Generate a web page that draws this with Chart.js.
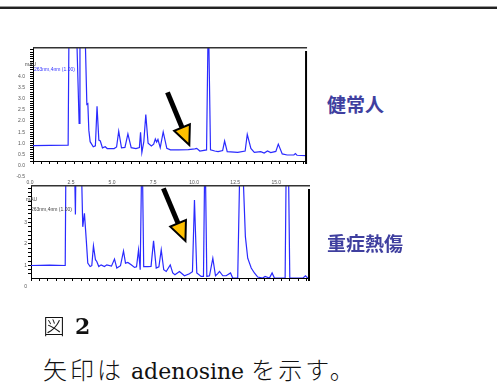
<!DOCTYPE html>
<html lang="ja">
<head>
<meta charset="UTF-8">
<title>図2 adenosine</title>
<script src="https://cdn.jsdelivr.net/npm/chart.js"></script>
<style>
  html, body { margin: 0; padding: 0; background: #fff; }
  body { width: 497px; height: 387px; position: relative; overflow: hidden; }
  .rule { position: absolute; left: 0; top: 6px; width: 497px; height: 0; border-top: 1px solid #9a9a9a; border-bottom: 2px solid #222; }
  canvas { position: absolute; left: 0; }
  #healthyChart { top: 40px; }
  #burnChart { top: 175px; }
  .small { position: absolute; font-family: 'Liberation Sans', Arial, sans-serif; font-size: 5px; line-height: 6px; white-space: nowrap; color: #444; }
  .blue { color: #3535ff; }
  .group { position: absolute; left: 327px; font-family: 'Noto Sans CJK JP', sans-serif; font-weight: 700; font-size: 19px; line-height: 20px; color: #3f3f9f; white-space: nowrap; }
  .caption { position: absolute; left: 43px; font-family: 'DejaVu Serif', 'Noto Sans CJK JP', serif; color: #111; white-space: nowrap; }
  .cjk { font-family: 'Noto Sans CJK JP', sans-serif; font-weight: 300; letter-spacing: 3px; }
</style>
</head>
<body>
  <div class="rule"></div>
  <canvas id="healthyChart" width="320" height="150"></canvas>
  <canvas id="burnChart" width="320" height="130"></canvas>

  <div class="small" style="left:25px; top:61px;">mAU</div>
  <div class="small blue" style="left:34px; top:66px;">263nm,4nm (1.00)</div>
  <div class="small" style="left:26px; top:196px;">mAU</div>
  <div class="small" style="left:31px; top:206px;">263nm,4nm (1.00)</div>

  <div class="group" style="top:94px;">健常人</div>
  <div class="group" style="top:233px;">重症熱傷</div>

  <div class="caption" style="top:312px; font-size:22px; line-height:24px;"><span class="cjk">図</span> <b>2</b></div>
  <div class="caption" style="top:357px; font-size:22px; line-height:24px;"><span class="cjk" style="font-size:24px;">矢印は</span> adenosine <span class="cjk" style="font-size:24px;">を示す。</span></div>

  <script>
    // retention time (min) and absorbance (mAU)
    // peaks that run off the top of the frame are given 7
    const healthyTime = [0, 1.02, 2.14, 2.20, 2.62, 2.81, 2.86, 3.14, 3.28, 3.34,
      3.40, 3.48, 3.67, 3.80, 3.90, 4.01, 4.10, 4.23, 4.40, 4.52,
      4.94, 5.09, 5.22, 5.39, 5.60, 5.78, 5.98, 6.27, 6.48, 6.55,
      6.63, 6.75, 6.87, 7.01, 7.21, 7.35, 7.45, 7.53, 7.61, 7.75,
      7.93, 8.15, 8.37, 8.86, 9.46, 9.86, 9.97, 10.16, 10.57, 10.68,
      10.81, 11.07, 11.27, 11.55, 11.67, 11.83, 12.47, 12.92, 13.05, 13.27,
      13.48, 13.87, 14.08, 14.28, 14.48, 14.79, 14.94, 15.18, 15.48, 15.89,
      15.98, 16.08, 16.63];
    const healthyAbs = [0.89, 0.90, 0.91, 7, 7, 1.89, 7, 7, 2.75, 2.78,
      1.59, 1.07, 0.84, 0.88, 2.67, 1.14, 1.10, 0.79, 0.84, 0.76,
      0.76, 0.83, 1.54, 0.79, 0.81, 1.42, 0.80, 0.76, 0.81, 1.49,
      0.58, 1.07, 2.29, 1.00, 0.88, 0.96, 1.19, 1.05, 1.17, 0.80,
      1.51, 0.77, 0.70, 0.70, 0.71, 0.75, 0.77, 0.65, 0.70, 7,
      0.70, 0.65, 0.62, 0.67, 1.10, 0.62, 0.59, 0.65, 1.40, 0.77,
      0.59, 0.62, 0.56, 0.65, 0.58, 0.63, 0.96, 0.52, 0.47, 0.47,
      0.53, 0.46, 0.44];

    const burnTime = [0, 1.11, 2.05, 2.10, 2.58, 2.66, 2.71, 2.98, 3.10, 3.20,
      3.31, 3.40, 3.54, 3.64, 3.74, 3.86, 3.94, 4.06, 4.20, 4.40,
      4.54, 4.82, 5.00, 5.14, 5.36, 5.54, 5.66, 5.80, 6.00, 6.20,
      6.32, 6.44, 6.54, 6.65, 6.75, 6.99, 7.19, 7.34, 7.50, 7.66,
      7.80, 7.95, 8.10, 8.34, 8.49, 8.62, 8.89, 9.19, 9.49, 9.67,
      9.79, 9.93, 10.19, 10.33, 10.42, 10.53, 10.69, 10.89, 11.05, 11.17,
      11.29, 11.49, 11.69, 11.95, 12.08, 12.38, 12.54, 12.62, 12.84, 12.98,
      13.19, 13.38, 13.58, 13.88, 14.02, 14.28, 14.44, 14.58, 15.22, 15.30,
      15.40, 15.50, 16.28, 16.44, 16.58, 16.65];
    const burnAbs = [0.99, 1.01, 0.99, 7, 7, 3.38, 7, 7, 2.80, 3.43,
      2.19, 1.10, 0.94, 0.98, 1.91, 1.26, 1.18, 0.94, 1.02, 0.94,
      1.02, 0.96, 1.29, 0.87, 0.98, 1.67, 1.10, 1.13, 1.02, 0.90,
      0.93, 1.72, 0.79, 7, 0.94, 0.94, 0.95, 2.14, 0.87, 0.93,
      1.72, 0.79, 0.71, 1.02, 0.64, 0.56, 0.71, 0.51, 0.60, 0.70,
      4.05, 0.64, 0.48, 0.48, 7, 0.48, 0.51, 1.33, 0.51, 0.60,
      0.71, 0.51, 0.51, 0.64, 0.40, 0.40, 7, 7, 2.34, 1.33,
      0.87, 0.64, 0.45, 0.40, 0.48, 0.40, 0.64, 0.40, 0.40, 7,
      7, 0.40, 0.40, 0.51, 0.40, 0.40];

    const xTickLabels = ['0.0', '2.5', '5.0', '7.5', '10.0', '12.5', '15.0'];
    const healthyYLabels = ['-0.5', '0.0', '0.5', '1.0', '1.5', '2.0', '2.5', '3.0', '3.5', '4.0'];
    const burnYLabels = ['0', '1', '2', '3'];

    // adenosine arrows, [time, mAU] of the tail and of the tip
    const healthyArrow = [[8.19, 3.29], [9.52, 0.92]];
    const burnArrow = [[7.93, 4.60], [9.25, 2.14]];

    const toPoints = (times, values) => times.map((t, i) => ({ x: t, y: values[i] }));

    // tick positions: every 0.5 min on x, fine steps on y
    const xTickValues = [];
    for (let i = 0; i <= 33; i++) xTickValues.push({ value: i / 2 });

    const framePlugin = {
      id: 'frame',
      afterDraw(chart) {
        const { ctx, chartArea: a } = chart;
        ctx.save();
        ctx.strokeStyle = '#333';
        ctx.lineWidth = 1.5;
        ctx.beginPath();
        ctx.moveTo(a.left, a.top - 0.25);
        ctx.lineTo(a.right + 1, a.top - 0.25);
        ctx.stroke();
        ctx.strokeStyle = '#000';
        ctx.lineWidth = 2;
        ctx.beginPath();
        ctx.moveTo(a.right, a.top + 3);
        ctx.lineTo(a.right, a.bottom + 3);
        ctx.stroke();
        ctx.restore();
      }
    };

    const arrowPlugin = {
      id: 'arrow',
      afterDatasetsDraw(chart, args, opts) {
        if (!opts.from) return;
        const { ctx, scales: { x, y } } = chart;
        const x0 = x.getPixelForValue(opts.from[0]), y0 = y.getPixelForValue(opts.from[1]);
        const x1 = x.getPixelForValue(opts.to[0]), y1 = y.getPixelForValue(opts.to[1]);
        const ang = Math.atan2(y1 - y0, x1 - x0);
        const headLen = 19, headHalf = 8.5;
        const bx = x1 - headLen * Math.cos(ang), by = y1 - headLen * Math.sin(ang);
        ctx.save();
        ctx.strokeStyle = '#000';
        ctx.lineWidth = 5;
        ctx.beginPath();
        ctx.moveTo(x0, y0);
        ctx.lineTo(bx, by);
        ctx.stroke();
        ctx.beginPath();
        ctx.moveTo(x1, y1);
        ctx.lineTo(bx + headHalf * Math.sin(ang), by - headHalf * Math.cos(ang));
        ctx.lineTo(bx - headHalf * Math.sin(ang), by + headHalf * Math.cos(ang));
        ctx.closePath();
        ctx.fillStyle = '#ffc000';
        ctx.fill();
        ctx.lineWidth = 2;
        ctx.stroke();
        ctx.restore();
      }
    };

    function makeChart(id, points, cfg) {
      return new Chart(document.getElementById(id), {
        type: 'line',
        data: {
          datasets: [{
            data: points,
            borderColor: '#2a2aff',
            borderWidth: 1.2,
            pointRadius: 0,
            tension: 0,
            fill: false
          }]
        },
        options: {
          responsive: false,
          animation: false,
          devicePixelRatio: 1,
          layout: { padding: { top: cfg.padTop, right: 11, left: 0, bottom: 0 } },
          plugins: {
            legend: { display: false },
            tooltip: { enabled: false },
            arrow: { from: cfg.arrow[0], to: cfg.arrow[1] }
          },
          scales: {
            x: {
              type: 'linear',
              min: 0,
              max: cfg.xMax,
              afterBuildTicks: axis => { axis.ticks = xTickValues.map(t => ({ value: t.value })); },
              afterFit: axis => { axis.height = cfg.xHeight; },
              border: { color: '#000', width: 1 },
              grid: { drawOnChartArea: false, tickLength: 3, tickColor: '#000' },
              ticks: {
                display: cfg.xLabels,
                autoSkip: false,
                maxRotation: 0,
                padding: 16,
                labelOffset: -3,
                color: '#555',
                font: { family: 'Liberation Sans', size: 5 },
                callback: v => {
                  const s = (Math.round(v * 10) / 10).toFixed(1);
                  return xTickLabels.includes(s) ? s : '';
                }
              }
            },
            y: {
              min: cfg.yMin,
              max: cfg.yMax,
              afterBuildTicks: axis => { axis.ticks = cfg.yTicks.map(v => ({ value: v })); },
              afterFit: axis => { axis.width = cfg.yWidth; },
              border: { color: '#000', width: 1 },
              grid: {
                drawOnChartArea: false,
                tickLength: 3,
                tickColor: c => (c.tick && c.tick.value < cfg.yMin - 1e-6) ? 'rgba(0,0,0,0)' : '#000'
              },
              ticks: {
                autoSkip: false,
                padding: cfg.yPad,
                color: '#555',
                font: { family: 'Liberation Sans', size: 5 },
                callback: v => {
                  const s = cfg.fmt(v);
                  return cfg.yLabels.includes(s) ? s : '';
                }
              }
            }
          }
        },
        plugins: [framePlugin, arrowPlugin]
      });
    }

    const healthyYTicks = [];
    for (let i = 0; i <= 57; i++) healthyYTicks.push((i - 5) / 10);
    const burnYTicks = [];
    for (let i = 0; i <= 23; i++) burnYTicks.push(i / 5);

    makeChart('healthyChart', toPoints(healthyTime, healthyAbs), {
      padTop: 7, xMax: 16.63, xHeight: 29, xLabels: true,
      yMin: 0.2, yMax: 5.29, yWidth: 33, yPad: 5,
      yTicks: healthyYTicks, yLabels: healthyYLabels,
      fmt: v => (Math.round(v * 10) / 10).toFixed(1),
      arrow: healthyArrow
    });

    makeChart('burnChart', toPoints(burnTime, burnAbs), {
      padTop: 11, xMax: 16.65, xHeight: 27, xLabels: false,
      yMin: 0.405, yMax: 4.71, yWidth: 31, yPad: 1,
      yTicks: burnYTicks, yLabels: burnYLabels,
      fmt: v => Math.abs(v - Math.round(v)) < 1e-6 ? String(Math.round(v)) : '',
      arrow: burnArrow
    });
  </script>
</body>
</html>
